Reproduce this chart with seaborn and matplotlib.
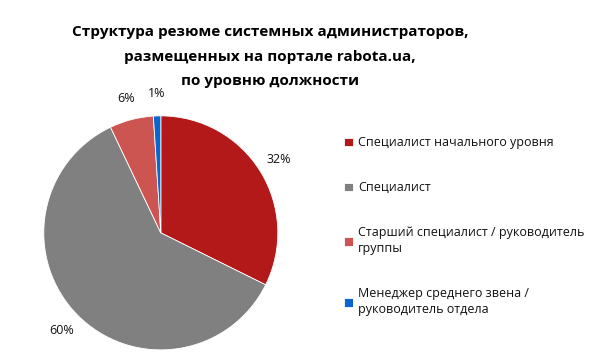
import matplotlib
matplotlib.use("Agg")
import matplotlib.pyplot as plt
import seaborn as sns

# data
categories = ["Специалист начального уровня",
              "Специалист",
              "Старший специалист / руководитель\nгруппы",
              "Менеджер среднего звена /\nруководитель отдела"]
shares = [32, 60, 6, 1]
pct_labels = ["32%", "60%", "6%", "1%"]
colors = sns.color_palette(["#B4191A", "#808080", "#CD5551", "#0A66CC"])

sns.set_theme(style="white")
plt.rcParams['font.family'] = ['Open Sans', 'DejaVu Sans']

fig = plt.figure(figsize=(6, 3.63), dpi=100)
ax = fig.add_axes([0.073, 0.036, 0.39, 0.645])

wedges, texts = ax.pie(shares, colors=colors, startangle=90, counterclock=False,
                       labels=pct_labels, labeldistance=1.19,
                       wedgeprops=dict(linewidth=0.6, edgecolor='white'),
                       textprops=dict(fontsize=9, color='#111111', ha='center', va='center'))
ax.set_xlim(-1, 1)
ax.set_ylim(-1, 1)
ax.set_aspect('equal')

fig.text(0.45, 0.93, "Структура резюме системных администраторов,\nразмещенных на портале rabota.ua,\nпо уровню должности",
         ha='center', va='top', fontsize=11, fontweight='bold', linespacing=1.95, color='black')

leg = fig.legend(wedges, categories, loc='upper left', bbox_to_anchor=(0.555, 0.655),
                 frameon=False, fontsize=9, handlelength=0.7, handleheight=0.7,
                 handletextpad=0.4, labelspacing=2.55, labelcolor='#111111')
for t in leg.get_texts():
    t.set_linespacing(1.3)

fig.savefig("out.png", dpi=100)
